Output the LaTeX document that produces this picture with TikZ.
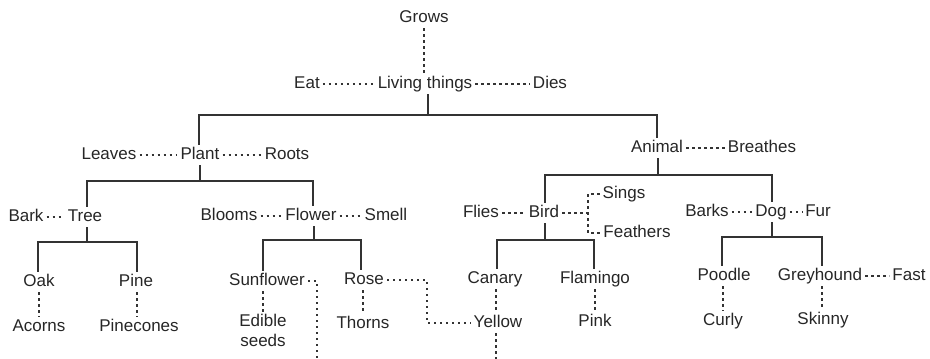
\documentclass[tikz,border=0pt]{standalone}
\usepackage{fontspec}
\setmainfont{Liberation Sans}
\definecolor{txt}{HTML}{262626}
\definecolor{ln}{HTML}{333333}
\begin{document}
\begin{tikzpicture}[x=1pt,y=-1pt,
  lab/.style={inner xsep=3pt, inner ysep=2.5pt, text height=12pt, text depth=3.5pt,
    font=\fontsize{17}{20}\selectfont, text=txt},
  tr/.style={draw=ln, line width=1.9pt},
  dt/.style={draw=ln, line width=1.5pt, dash pattern=on 2.4pt off 3.6pt}]
\useasboundingbox (0,0) rectangle (930,359);
% level 0
\node[lab] (grows)  at (424,18) {Grows};
\node[lab] (living) at (425,84) {Living things};
\node[lab] (eat)    at (307,84) {Eat};
\node[lab] (dies)   at (550,84) {Dies};
% level 1
\node[lab] (plant)  at (200,155) {Plant};
\node[lab] (leaves) at (109,155) {Leaves};
\node[lab] (roots)  at (287,155) {Roots};
\node[lab] (animal) at (657,148) {Animal};
\node[lab] (breathes) at (762,148) {Breathes};
% level 2
\node[lab] (tree)   at (85,217) {Tree};
\node[lab] (bark)   at (26,217) {Bark};
\node[lab] (flower) at (311,216) {Flower};
\node[lab] (blooms) at (229,216) {Blooms};
\node[lab] (smell)  at (386,216) {Smell};
\node[lab] (bird)   at (544,213) {Bird};
\node[lab] (flies)  at (481,213) {Flies};
\node[lab] (sings)  at (624,194) {Sings};
\node[lab] (feathers) at (637,233) {Feathers};
\node[lab] (dog)    at (771,212) {Dog};
\node[lab] (barks)  at (707,212) {Barks};
\node[lab] (fur)    at (818,212) {Fur};
% level 3
\node[lab] (oak)    at (39,282) {Oak};
\node[lab] (pine)   at (136,282) {Pine};
\node[lab] (sunflower) at (267,281) {Sunflower};
\node[lab] (rose)   at (364,280) {Rose};
\node[lab] (canary) at (495,279) {Canary};
\node[lab] (flamingo) at (595,279) {Flamingo};
\node[lab] (poodle) at (724,276) {Poodle};
\node[lab] (greyhound) at (820,276) {Greyhound};
\node[lab] (fast)   at (909,276) {Fast};
% level 4
\node[lab] (acorns) at (39,327) {Acorns};
\node[lab] (pinecones) at (139,327) {Pinecones};
\node[lab, text height=, text depth=, align=center, anchor=north, inner ysep=1pt] (edible) at (263,313) {Edible\\seeds};
\node[lab] (thorns) at (363,324) {Thorns};
\node[lab] (yellow) at (498,323) {Yellow};
\node[lab] (pink)   at (595,322) {Pink};
\node[lab] (curly)  at (723,321) {Curly};
\node[lab] (skinny) at (823,320) {Skinny};
\coordinate (sfend) at (317,359);
\coordinate (yeend) at (496,359);
\coordinate (brk) at (588,213);
\coordinate (rbend) at (427,300);
% tree (solid) connectors
\draw[tr] (living.south -| 428,0) -- (428,115) -- (199,115) -- (plant.north -| 199,0);
\draw[tr] (428,115) -- (657,115) -- (animal.north -| 657,0);
\draw[tr] (plant.south -| 200,0) -- (200,181) -- (87,181) -- (tree.north -| 87,0);
\draw[tr] (200,181) -- (313,181) -- (flower.north -| 313,0);
\draw[tr] (animal.south -| 658,0) -- (658,175) -- (545,175) -- (bird.north -| 545,0);
\draw[tr] (658,175) -- (772,175) -- (dog.north -| 772,0);
\draw[tr] (tree.south -| 87,0) -- (87,242) -- (38,242) -- (oak.north -| 38,0);
\draw[tr] (87,242) -- (137,242) -- (pine.north -| 137,0);
\draw[tr] (flower.south -| 314,0) -- (314,240) -- (263,240) -- (sunflower.north -| 263,0);
\draw[tr] (314,240) -- (361,240) -- (rose.north -| 361,0);
\draw[tr] (bird.south -| 545,0) -- (545,240) -- (497,240) -- (canary.north -| 497,0);
\draw[tr] (545,240) -- (594,240) -- (flamingo.north -| 594,0);
\draw[tr] (dog.south -| 772,0) -- (772,237) -- (722,237) -- (poodle.north -| 722,0);
\draw[tr] (772,237) -- (822,237) -- (greyhound.north -| 822,0);
% dotted property links
\draw[dt] (grows.south) -- (grows.south |- living.north);
\draw[dt] (eat) -- (living);
\draw[dt] (living) -- (dies);
\draw[dt] (leaves) -- (plant);
\draw[dt] (plant) -- (roots);
\draw[dt] (animal) -- (breathes);
\draw[dt] (bark) -- (tree);
\draw[dt] (blooms) -- (flower);
\draw[dt] (flower) -- (smell);
\draw[dt] (flies) -- (bird);
\draw[dt] (barks) -- (dog);
\draw[dt] (dog) -- (fur);
\draw[dt] (greyhound) -- (fast);
\draw[dt] (bird.east) -- (brk);
\draw[dt] (sings.west) -| (brk) |- (feathers.west);
\draw[dt] (oak.south) -- (oak.south |- acorns.north);
\draw[dt] (pine.south -| 137,0) -- (pinecones.north -| 137,0);
\draw[dt] (sunflower.south -| 263,0) -- (edible.north);
\draw[dt] (sunflower.east) -| (sfend);
\draw[dt] (rose.south -| 363,0) -- (thorns.north -| 363,0);
\draw[dt] (rose.east) -| (rbend) |- (yellow.west);
\draw[dt] (canary.south -| 496,0) -- (yellow.north -| 496,0);
\draw[dt] (yellow.south -| 496,0) -- (yeend);
\draw[dt] (flamingo.south) -- (flamingo.south |- pink.north);
\draw[dt] (poodle.south -| 723,0) -- (curly.north -| 723,0);
\draw[dt] (greyhound.south -| 822,0) -- (skinny.north -| 822,0);
\end{tikzpicture}
\end{document}
